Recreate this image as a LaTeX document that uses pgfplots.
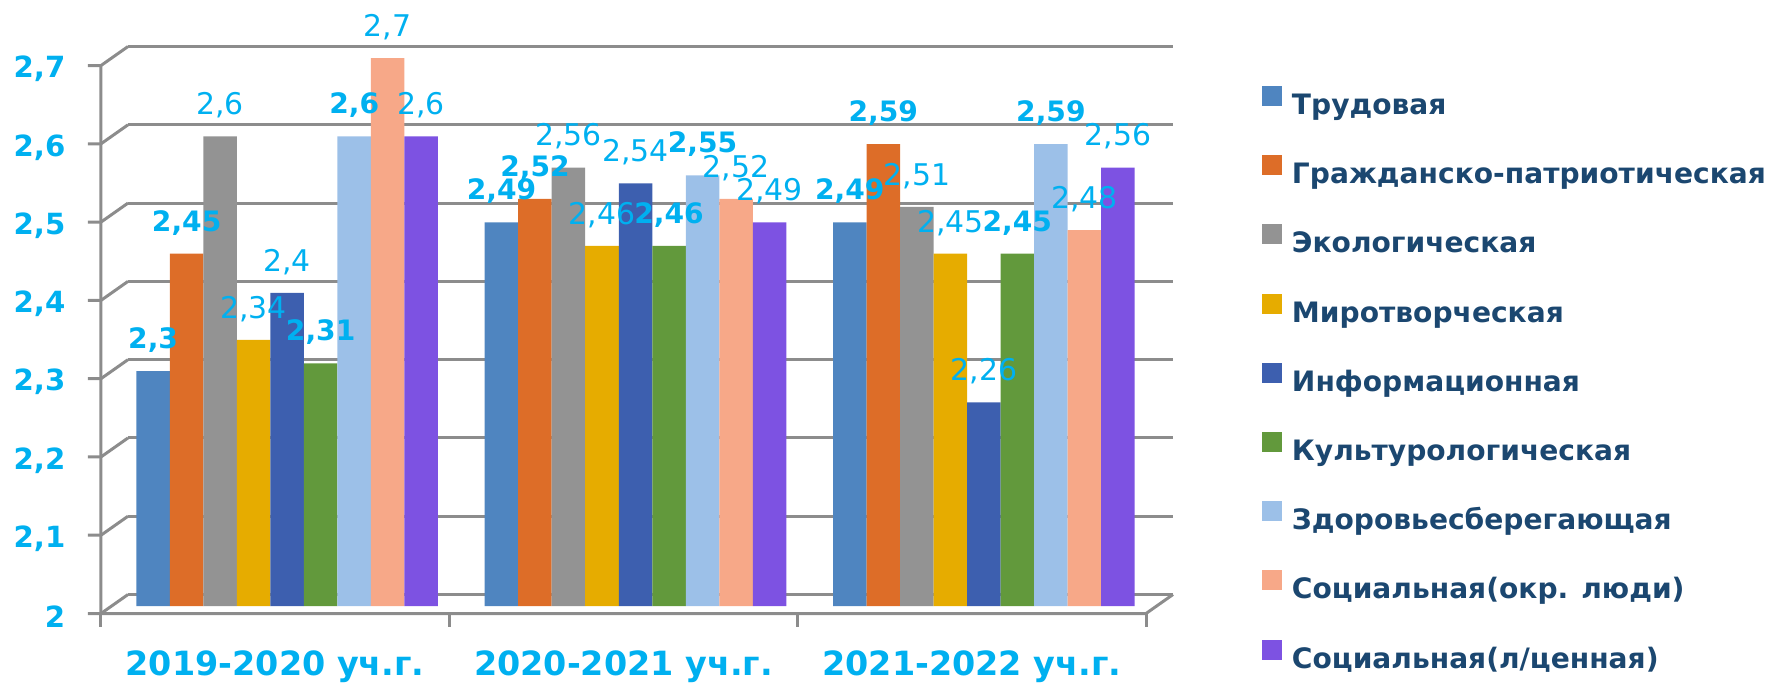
\documentclass[border=0pt]{standalone}
\usepackage{fontspec}
\setmainfont{DejaVu Sans}
\usepackage{pgfplots}
\usepackage{pgfplotstable}
\pgfplotsset{compat=1.18}

\definecolor{cTrud}{HTML}{4F85C0}
\definecolor{cGrazh}{HTML}{DD6D28}
\definecolor{cEkol}{HTML}{939393}
\definecolor{cMir}{HTML}{E6AC00}
\definecolor{cInf}{HTML}{3D5FAF}
\definecolor{cKult}{HTML}{62993C}
\definecolor{cZdor}{HTML}{9CC0E8}
\definecolor{cSokr}{HTML}{F7A888}
\definecolor{cSl}{HTML}{7D52E2}
\definecolor{tickc}{HTML}{00B0F0}
\definecolor{legc}{HTML}{1B4770}
\definecolor{gridc}{HTML}{8C8C8C}

\pgfplotstableread{
g trud grazh ekol mir inf kult zdor sokr sl
0 2.30 2.45 2.60 2.34 2.40 2.31 2.60 2.70 2.60
1 2.49 2.52 2.56 2.46 2.54 2.46 2.55 2.52 2.49
2 2.49 2.59 2.51 2.45 2.26 2.45 2.59 2.48 2.56
}\scores

\newcommand\lblb{\bfseries\fontsize{8}{9}\selectfont}
\newcommand\lblr{\fontsize{8.5}{10}\selectfont}

\pgfplotsset{
  bars/.style={forget plot, draw=none, bar shift=#1},
  lb/.style={every node near coord/.append style={font=\lblb}},
  lr/.style={every node near coord/.append style={font=\lblr}},
}

\begin{document}
\begin{tikzpicture}
\path[use as bounding box] (0,0) rectangle (177.3mm,68.4mm);
\begin{axis}[
  at={(11.3mm,7.8mm)}, anchor=south west,
  scale only axis, width=104.5mm, height=54.8mm,
  xmin=-0.5, xmax=2.5, ymin=2, ymax=2.7,
  clip=false,
  axis lines*=left, axis line style={draw=none}, tick style={draw=none},
  major tick length=0pt,
  ybar, bar width=0.0962,
  /pgf/number format/.cd, use comma, assume math mode=true, /pgfplots/.cd,
  ytick={2,2.1,2.2,2.3,2.4,2.5,2.6,2.7},
  yticklabel style={font=\bfseries\fontsize{8.3}{9}\selectfont, text=tickc,
    anchor=east, inner sep=0pt, xshift=-4.7mm, yshift=-1.1mm},
  xtick={0,1,2},
  xticklabels={2019-2020 уч.г., 2020-2021 уч.г., 2021-2022 уч.г.},
  xticklabel style={font=\bfseries\fontsize{9.5}{11}\selectfont, text=tickc,
    anchor=center, inner sep=0pt, xshift=-1.2mm, yshift=-6.1mm},
  nodes near coords,
  every node near coord/.append style={text=tickc, anchor=center, inner sep=0pt, yshift=3.1mm},
  legend image code/.code={\fill[#1] (0mm,0mm) rectangle (2mm,2mm); \path (3mm,0mm);},
  legend cell align=left,
  legend style={at={(rel axis cs:1.0995,0.949)}, anchor=north west,
    draw=none, fill=none, inner sep=0pt, outer sep=0pt,
    font=\bfseries\fontsize{8}{9.6}\selectfont, text=legc,
    row sep=3.37mm,
    nodes={inner sep=0pt, text height=2.4mm, text depth=0.7mm}},
]
% back wall grid, front ticks and depth connectors
\pgfplotsinvokeforeach{2.0,2.1,2.2,2.3,2.4,2.5,2.6,2.7}{
  \draw[gridc, line width=0.3mm]
    ([shift={(1.5mm,1.15mm)}]axis cs:-0.5,#1) -- ([shift={(1.5mm,1.15mm)}]axis cs:2.5,#1);
  \draw[gridc, line width=0.3mm]
    ([shift={(-2.5mm,-0.75mm)}]axis cs:-0.5,#1) -- ([shift={(-1.2mm,-0.75mm)}]axis cs:-0.5,#1)
    -- ([shift={(1.5mm,1.15mm)}]axis cs:-0.5,#1);
}
\draw[gridc, line width=0.3mm]
  ([shift={(-1.2mm,-0.75mm)}]axis cs:-0.5,2.7) -- ([shift={(-1.2mm,-0.75mm)}]axis cs:-0.5,2)
  -- ([shift={(-1.2mm,-0.75mm)}]axis cs:2.5,2) -- ([shift={(1.5mm,1.15mm)}]axis cs:2.5,2);
\pgfplotsinvokeforeach{-0.5,0.5,1.5,2.5}{
  \draw[gridc, line width=0.3mm]
    ([shift={(-1.2mm,-0.75mm)}]axis cs:#1,2) -- ([shift={(-1.2mm,-2.05mm)}]axis cs:#1,2);
}

\addlegendimage{fill=cTrud, draw=none}
\addlegendimage{fill=cGrazh, draw=none}
\addlegendimage{fill=cEkol, draw=none}
\addlegendimage{fill=cMir, draw=none}
\addlegendimage{fill=cInf, draw=none}
\addlegendimage{fill=cKult, draw=none}
\addlegendimage{fill=cZdor, draw=none}
\addlegendimage{fill=cSokr, draw=none}
\addlegendimage{fill=cSl, draw=none}

\addplot[bars=-0.3848, fill=cTrud, lb] table[x=g, y=trud] {\scores};
\addplot[bars=-0.2886, fill=cGrazh, lb] table[x=g, y=grazh] {\scores};
\addplot[bars=-0.1924, fill=cEkol, lr] table[x=g, y=ekol] {\scores};
\addplot[bars=-0.0962, fill=cMir, lr] table[x=g, y=mir] {\scores};
\addplot[bars=0, fill=cInf, lr] table[x=g, y=inf] {\scores};
\addplot[bars=0.0962, fill=cKult, lb] table[x=g, y=kult] {\scores};
\addplot[bars=0.1924, fill=cZdor, lb] table[x=g, y=zdor] {\scores};
\addplot[bars=0.2886, fill=cSokr, lr] table[x=g, y=sokr] {\scores};
\addplot[bars=0.3848, fill=cSl, lr] table[x=g, y=sl] {\scores};

\legend{Трудовая, Гражданско-патриотическая, Экологическая, Миротворческая,
  Информационная, Культурологическая, Здоровьесберегающая,
  Социальная(окр. люди), Социальная(л/ценная)}
\end{axis}
\end{tikzpicture}
\end{document}
